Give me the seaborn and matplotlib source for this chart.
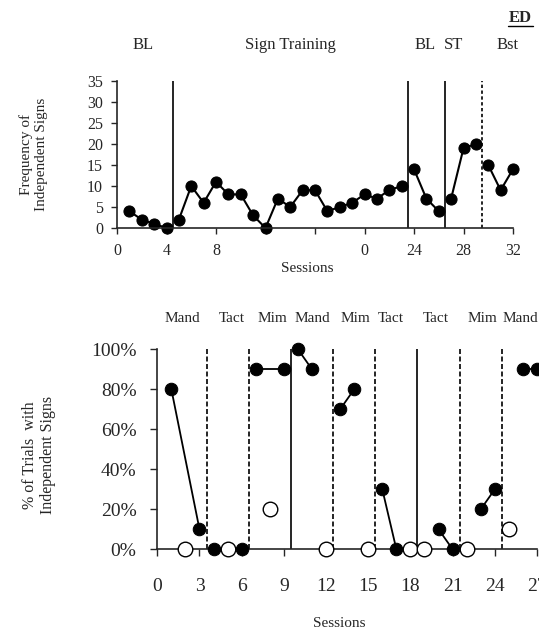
import pandas as pd
import seaborn as sns
import matplotlib.pyplot as plt
from matplotlib.ticker import PercentFormatter

# Datos panel superior: frecuencia de signos independientes por sesión
top_sessions = list(range(1, 33))
top_freq = [4, 2, 1, 0,
            2, 10, 6, 11, 8, 8, 3, 0, 7, 5, 9, 9, 4, 5, 6, 8, 7, 9, 10,
            14, 7, 4,
            7, 19, 20,
            15, 9, 14]
top_phase = [1] * 4 + [2] * 19 + [3] * 3 + [4] * 3 + [5] * 3
top_solid = [4.5, 23.5, 26.5]
top_dashed = [29.5]
top_labels = ["BL", "Sign Training", "BL", "ST", "Bst"]
top_label_x = [2.1, 14.0, 24.9, 27.2, 31.6]
top_xticklabels = ["0", "4", "8", "", "", "0", "24", "28", "32"]

# Datos panel inferior: % de ensayos con signos independientes
filled_sessions = [1, 3, 4, 6, 7, 9, 10, 11, 13, 14, 16, 17, 20, 21, 23, 24, 26, 27]
filled_pct = [80, 10, 0, 0, 90, 90, 100, 90, 70, 80, 30, 0, 10, 0, 20, 30, 90, 90]
filled_phase = [1, 1, 2, 2, 3, 3, 4, 4, 5, 5, 6, 6, 7, 7, 8, 8, 9, 9]
open_sessions = [2, 5, 8, 12, 15, 18, 19, 22, 25]
open_pct = [0, 0, 20, 0, 0, 0, 0, 0, 10]
bot_solid = [9.5, 18.5]
bot_dashed = [3.5, 6.5, 12.5, 15.5, 21.5, 24.5]
bot_labels = ["Mand", "Tact", "Mim", "Mand", "Mim", "Tact", "Tact", "Mim", "Mand"]
bot_label_x = [1.8, 5.3, 8.2, 11.0, 14.1, 16.6, 19.8, 23.1, 25.8]

sns.set_style("ticks")
plt.rcParams['font.family'] = ['Liberation Serif', 'DejaVu Serif']

fig = plt.figure(figsize=(5.39, 6.33), dpi=100)

# Panel superior
ax1 = fig.add_axes([117 / 539, 1 - 228 / 633, 396 / 539, 147 / 633])
df_top = pd.DataFrame({"Session": top_sessions, "Freq": top_freq, "Phase": top_phase})
sns.lineplot(data=df_top, x="Session", y="Freq", units="Phase", estimator=None,
             color="black", lw=1.5, marker="o", markersize=8,
             markeredgecolor="black", ax=ax1, clip_on=False)
for x in top_solid:
    ax1.axvline(x, ymin=0, ymax=1, color="black", lw=1.2)
for x in top_dashed:
    ax1.axvline(x, ymin=0, ymax=1, color="black", lw=1.2, ls=(0, (2, 1.5)))
ax1.set_xlim(0, 32)
ax1.set_ylim(0, 35)
ax1.set_xticks(range(0, 33, 4))
ax1.set_xticklabels(top_xticklabels)
ax1.set_yticks(range(0, 36, 5))
ax1.tick_params(labelsize=11.5, length=4, width=1, direction="out")
ax1.tick_params(axis="x", pad=7)
ax1.tick_params(axis="y", pad=6)
ax1.set_xlabel("Sessions", fontsize=11)
ax1.xaxis.set_label_coords(0.48, -0.23)
ax1.set_ylabel("Frequency of\nIndependent Signs", fontsize=11)
ax1.yaxis.set_label_coords(-0.174, 0.5)
for s in ["left", "bottom"]:
    ax1.spines[s].set_linewidth(1.2)
sns.despine(ax=ax1)
for lab, x in zip(top_labels, top_label_x):
    ax1.text(x, 1.245, lab, transform=ax1.get_xaxis_transform(),
             ha="center", va="center", fontsize=12)

fig.text(520 / 539, 1 - 18 / 633, "ED", ha="center", va="center",
         fontsize=12, fontweight="bold")
fig.add_artist(plt.Line2D([508 / 539, 533 / 539], [1 - 26 / 633, 1 - 26 / 633],
                          color="black", lw=1))

# Panel inferior
ax2 = fig.add_axes([157.3 / 539, 1 - 549.3 / 633, 379.7 / 539, 200 / 633])
df_filled = pd.DataFrame({"Session": filled_sessions, "Pct": filled_pct, "Phase": filled_phase})
df_open = pd.DataFrame({"Session": open_sessions, "Pct": open_pct})
for x in bot_solid:
    ax2.axvline(x, ymin=0, ymax=1, color="black", lw=1.2)
for x in bot_dashed:
    ax2.axvline(x, ymin=0, ymax=1, color="black", lw=1.2, ls=(0, (3, 1.5)))
sns.lineplot(data=df_filled, x="Session", y="Pct", units="Phase", estimator=None,
             color="black", lw=1.3, marker="o", markersize=9,
             markeredgecolor="black", ax=ax2, clip_on=False, zorder=3)
sns.scatterplot(data=df_open, x="Session", y="Pct", s=110, color="white",
                edgecolor="black", linewidth=1, ax=ax2, clip_on=False, zorder=4)
ax2.set_xlim(0, 27)
ax2.set_ylim(0, 100)
ax2.set_xticks(range(0, 28, 3))
ax2.set_yticks(range(0, 101, 20))
ax2.yaxis.set_major_formatter(PercentFormatter(xmax=100, decimals=0))
ax2.tick_params(labelsize=14, length=5, width=1, direction="out")
ax2.tick_params(axis="x", pad=16)
ax2.tick_params(axis="y", pad=10)
ax2.set_xlabel("Sessions", fontsize=11)
ax2.xaxis.set_label_coords(0.48, -0.34)
ax2.set_ylabel("% of Trials  with\nIndependent Signs", fontsize=11.5)
ax2.yaxis.set_label_coords(-0.267, 0.47)
for s in ["left", "bottom"]:
    ax2.spines[s].set_linewidth(1.2)
sns.despine(ax=ax2)
for lab, x in zip(bot_labels, bot_label_x):
    ax2.text(x, 1.155, lab, transform=ax2.get_xaxis_transform(),
             ha="center", va="center", fontsize=11)

fig.savefig("out.png", dpi=100)
